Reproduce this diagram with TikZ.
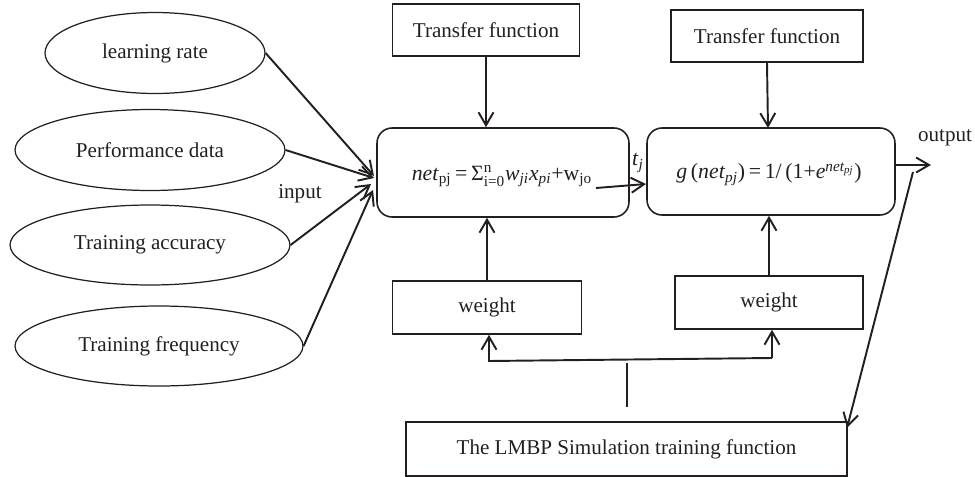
\documentclass[tikz,border=0pt]{standalone}
\usepackage{amsmath}
\usepackage{fontspec}
\setmainfont{Liberation Serif}
\usetikzlibrary{shapes.geometric,arrows.meta}
\definecolor{ink}{HTML}{231F20}
\begin{document}
\begin{tikzpicture}[x=0.02cm,y=-0.02cm,
  every node/.style={text=ink,font=\fontsize{12}{14}\selectfont},
  oval/.style={draw=ink,ellipse,inner sep=0pt,line width=0.7pt},
  sqbox/.style={draw=ink,rectangle,inner sep=0pt,line width=0.9pt},
  rbox/.style={draw=ink,rectangle,rounded corners=0.3cm,inner sep=0pt,line width=0.9pt},
  formula/.style={font=\fontsize{12.4}{15}\selectfont,inner sep=0pt},
  conn/.style={draw=ink,line width=1.1pt,-{Straight Barb[length=2.6mm,width=3mm,line width=1.1pt]}},
  plain/.style={draw=ink,line width=1.1pt}]
\useasboundingbox (0,0) rectangle (975,477);
% input ellipses
\node[oval,minimum width=4.4cm,minimum height=1.62cm] (lr) at (155,53) {learning rate};
\node[oval,minimum width=5.4cm,minimum height=1.62cm] (pd) at (150,150) {Performance data};
\node[oval,minimum width=5.6cm,minimum height=1.6cm] (ta) at (150,245) {Training accuracy};
\node[oval,minimum width=5.76cm,minimum height=1.6cm] (tf) at (159,346) {Training frequency};
\node (inp) at (300,194) {input};
% main boxes
\node[rbox,minimum width=5.04cm,minimum height=1.78cm] (b1) at (503,172.5) {};
\node[formula] (f1) at (502,176) {\textit{net}$_{\text{pj}}$\,=\,Σ$^{\text{n}}_{\text{i=0}}$\textit{w}$_{\textit{ji}}$\textit{x}$_{\textit{pi}}$+w$_{\text{jo}}$};
\node[rbox,minimum width=4.96cm,minimum height=1.74cm] (b2) at (771,171.5) {};
\node[formula] (f2) at (769,174) {\textit{g}\,(\textit{net}$_{\textit{pj}}$)\,=\,1/\,(1+\textit{e}$^{\textit{net}_{\textit{pj}}}$)};
\node[formula] (tj) at (638,163) {\textit{t}$_{\textit{j}}$};
\node (out) at (945,138) {output};
% transfer function boxes
\node[sqbox,minimum width=3.74cm,minimum height=1.04cm] (t1) at (486,30) {Transfer function};
\node[sqbox,minimum width=3.84cm,minimum height=1.04cm] (t2) at (767,36) {Transfer function};
% weight boxes
\node[sqbox,minimum width=3.78cm,minimum height=1.06cm] (w1) at (487,307.5) {weight};
\node[sqbox,minimum width=3.76cm,minimum height=1.06cm] (w2) at (769,302.5) {weight};
% LMBP box
\node[sqbox,minimum width=8.82cm,minimum height=1.08cm] (lm) at (626.5,449) {The LMBP Simulation training function};
% coordinates
\coordinate (cv1) at (374,176);
\coordinate (cv2) at (374,178);
\coordinate (cv3) at (371,184);
\coordinate (cv4) at (373,190);
\coordinate (fs) at (596,188);
\coordinate (b2in) at (646,184);
\coordinate (os) at (b2.east |- 0,165);
\coordinate (oe) at (931,165);
\coordinate (ls) at (913,172);
\coordinate (le) at (847,428);
\coordinate (br) at (772,358);
\coordinate (bl) at (489,361);
\coordinate (st1) at (627,363);
\coordinate (st2) at (627,407);
% input connectors
\draw[conn] (lr.east) -- (cv1);
\draw[conn] (pd.east) -- (cv2);
\draw[conn] (ta.east) -- (cv3);
\draw[conn] (tf.east) -- (cv4);
% transfer to boxes
\draw[conn] (t1.south) -- (t1.south |- b1.north);
\draw[conn] (t2.south) -- (768,128);
% weights to boxes
\draw[conn] (w1.north) -- (w1.north |- b1.south);
\draw[conn] (w2.north) -- (w2.north |- b2.south);
% box1 to box2
\draw[conn] (fs) -- (b2in);
% output
\draw[conn] (os) -- (oe);
\draw[conn] (ls) -- (le);
% feedback bracket
\draw[conn] (br) -- (bl) -- (bl |- w1.south);
\draw[conn] (br) -- (br |- w2.south);
\draw[draw=ink,line width=0.7pt] (st1) -- (st2);
\end{tikzpicture}
\end{document}
